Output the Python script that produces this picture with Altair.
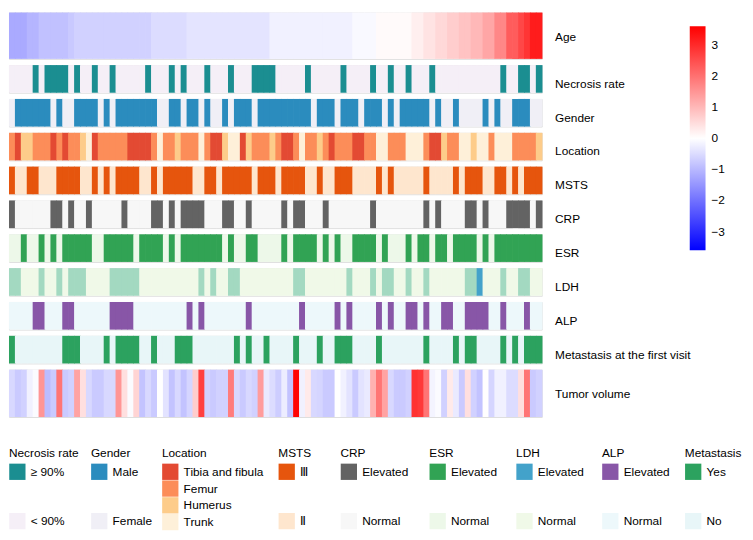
import altair as alt
import pandas as pd

FONT = "Liberation Sans"

# ---------------- data: 90 patients, left to right ----------------
cols = list(range(90))

age = [-1.2, -1.2, -1.2, -1.05, -1.05, -0.88, -0.88, -0.88, -0.88, -0.88,
       -0.76, -0.65, -0.65, -0.65, -0.65, -0.65, -0.65, -0.65, -0.65, -0.65,
       -0.65, -0.65, -0.65, -0.65, -0.5, -0.5, -0.5, -0.5, -0.5, -0.5,
       -0.38, -0.38, -0.38, -0.38, -0.38, -0.38, -0.38, -0.38, -0.38, -0.38,
       -0.38, -0.38, -0.38, -0.38, -0.2, -0.2, -0.2, -0.2, -0.2, -0.2,
       -0.2, -0.2, -0.2, -0.2, -0.2, -0.2, -0.2, -0.2, -0.08, -0.08,
       -0.08, -0.08, 0.07, 0.07, 0.07, 0.07, 0.07, 0.07, 0.22, 0.22,
       0.4, 0.4, 0.55, 0.55, 0.7, 0.7, 0.85, 0.85, 1.0, 1.0,
       1.25, 1.25, 1.7, 1.7, 2.3, 2.3, 2.6, 2.85, 3.2, 3.2]

tumor_volume = [-0.55, -0.75, -0.65, -0.2, -0.05, 1.5, -0.95, -0.75, 1.95, -0.75,
                -0.65, 1.3, 0.45, -0.55, -0.75, -0.75, -0.55, -0.55, 1.5, 0.45,
                -0.05, 0.6, -0.85, -0.55, -0.75, 0.0, -0.4, -0.85, -0.55, -0.85,
                -0.6, 0.7, 2.7, -0.65, -0.75, -0.65, -0.65, 1.85, -0.55, -0.75,
                -0.55, -0.65, 1.4, -0.3, -0.5, -0.7, -0.25, -0.85, 3.55, -0.2,
                0.3, -0.55, -0.6, -0.75, -0.75, 0.0, -0.2, -0.4, -0.75, -0.4,
                -0.3, 1.1, 1.95, 1.3, -0.55, -0.75, -0.75, -0.65, 2.9, 2.8,
                1.95, -0.15, -0.05, -0.65, 0.3, -0.3, -0.75, 0.45, -0.65, -0.85,
                0.02, -0.6, -0.2, -0.2, -0.5, -0.5, 0.45, 1.95, -0.75, -0.65]

# 1 = ">= 90%"
necrosis = [0, 0, 0, 0, 1, 0, 1, 1, 1, 1,
            0, 1, 0, 0, 1, 0, 0, 1, 0, 0,
            0, 0, 0, 1, 0, 0, 0, 1, 0, 1,
            0, 0, 0, 1, 0, 0, 0, 1, 0, 0,
            0, 1, 1, 1, 1, 0, 0, 0, 0, 0,
            1, 0, 0, 0, 0, 0, 1, 0, 0, 0,
            0, 1, 0, 0, 1, 0, 0, 1, 0, 0,
            0, 1, 0, 0, 0, 0, 0, 0, 0, 0,
            0, 0, 0, 1, 0, 0, 1, 1, 0, 1]
# 1 = male
gender = [0, 1, 1, 1, 1, 1, 1, 0, 1, 0,
          0, 1, 1, 1, 1, 0, 1, 0, 1, 1,
          1, 1, 1, 1, 1, 0, 0, 1, 1, 0,
          1, 1, 0, 1, 0, 0, 1, 0, 1, 1,
          1, 0, 1, 1, 1, 1, 1, 1, 1, 1,
          1, 0, 1, 1, 1, 0, 1, 1, 1, 0,
          1, 1, 1, 0, 1, 0, 1, 1, 1, 1,
          1, 0, 1, 0, 0, 1, 0, 0, 0, 0,
          1, 0, 1, 0, 0, 1, 1, 1, 0, 0]
# 0 tibia and fibula, 1 femur, 2 humerus, 3 trunk
location = [1, 0, 2, 2, 1, 1, 1, 0, 1, 0,
            1, 1, 2, 3, 0, 1, 1, 1, 1, 1,
            0, 0, 0, 0, 1, 3, 1, 1, 2, 1,
            1, 1, 3, 1, 0, 0, 2, 3, 3, 0,
            2, 1, 1, 1, 2, 1, 0, 0, 1, 3,
            1, 1, 2, 1, 0, 1, 1, 1, 0, 0,
            1, 1, 3, 3, 1, 1, 1, 3, 3, 3,
            1, 0, 0, 2, 1, 1, 3, 3, 2, 3,
            3, 1, 3, 3, 3, 1, 1, 1, 1, 2]
# 1 = III
msts = [1, 0, 0, 1, 1, 0, 0, 0, 1, 1,
        1, 1, 0, 0, 1, 0, 1, 0, 1, 1,
        1, 1, 0, 0, 1, 0, 1, 1, 1, 1,
        1, 0, 0, 1, 1, 0, 1, 1, 1, 1,
        1, 0, 1, 1, 1, 0, 1, 1, 1, 1,
        0, 0, 1, 0, 0, 1, 1, 1, 0, 0,
        0, 0, 1, 0, 1, 0, 0, 0, 0, 0,
        1, 0, 0, 0, 0, 1, 0, 1, 1, 1,
        0, 0, 1, 1, 0, 1, 0, 1, 1, 1]
# 1 = elevated
crp = [1, 0, 0, 0, 0, 0, 0, 1, 1, 0,
       1, 0, 0, 1, 0, 0, 0, 0, 0, 1,
       0, 0, 0, 0, 1, 1, 0, 1, 0, 1,
       1, 1, 1, 0, 0, 0, 1, 1, 0, 0,
       1, 0, 0, 0, 0, 0, 1, 0, 1, 1,
       0, 0, 0, 1, 0, 0, 0, 0, 0, 0,
       0, 1, 0, 0, 0, 0, 0, 0, 0, 0,
       1, 0, 1, 0, 0, 0, 0, 1, 1, 0,
       1, 0, 0, 0, 1, 1, 1, 1, 0, 1]
esr = [0, 0, 1, 0, 0, 1, 0, 1, 0, 1,
       1, 1, 1, 1, 0, 0, 1, 1, 1, 1,
       1, 0, 1, 1, 1, 1, 0, 1, 0, 1,
       1, 1, 1, 1, 1, 1, 0, 1, 0, 0,
       1, 1, 0, 0, 0, 0, 1, 0, 1, 1,
       1, 1, 0, 1, 0, 1, 0, 0, 1, 1,
       1, 1, 0, 1, 0, 0, 0, 1, 0, 1,
       1, 0, 1, 1, 0, 1, 1, 1, 1, 0,
       1, 0, 1, 1, 1, 1, 1, 1, 1, 1]
# 0 normal, 1 mildly elevated, 2 elevated
ldh = [1, 1, 0, 0, 0, 1, 0, 0, 1, 0,
       1, 1, 1, 0, 0, 0, 0, 1, 1, 1,
       1, 1, 0, 0, 0, 0, 0, 0, 0, 0,
       0, 0, 1, 0, 1, 0, 0, 1, 1, 0,
       0, 0, 0, 0, 0, 0, 0, 0, 1, 1,
       0, 0, 0, 0, 0, 0, 0, 1, 0, 0,
       0, 1, 0, 1, 1, 0, 0, 1, 0, 0,
       1, 0, 0, 0, 0, 0, 0, 1, 1, 2,
       0, 0, 0, 1, 0, 0, 1, 1, 0, 0]
alp = [0, 0, 0, 0, 1, 1, 0, 0, 0, 1,
       1, 0, 0, 0, 0, 0, 0, 1, 1, 1,
       1, 0, 0, 0, 0, 0, 0, 0, 0, 0,
       1, 0, 1, 0, 0, 0, 0, 0, 0, 0,
       1, 0, 0, 0, 0, 0, 0, 0, 0, 1,
       0, 0, 0, 0, 0, 1, 0, 1, 0, 0,
       0, 0, 1, 0, 1, 0, 0, 1, 1, 0,
       1, 0, 0, 1, 1, 0, 0, 1, 1, 1,
       1, 0, 0, 1, 0, 0, 0, 1, 0, 0]
# 1 = yes
metastasis = [1, 0, 0, 0, 0, 0, 0, 0, 0, 1,
              1, 1, 0, 0, 0, 0, 1, 0, 1, 1,
              1, 1, 0, 0, 1, 0, 0, 0, 1, 1,
              1, 0, 0, 0, 0, 0, 0, 0, 1, 0,
              1, 0, 0, 1, 0, 0, 0, 0, 1, 0,
              0, 0, 1, 0, 0, 1, 1, 1, 0, 0,
              0, 0, 1, 0, 0, 0, 0, 0, 0, 0,
              1, 0, 0, 0, 0, 1, 0, 1, 1, 0,
              0, 0, 0, 1, 0, 1, 0, 1, 1, 1]

# ---------------- layout / style ----------------
W = 540
H_BIG_TOP = 47
H_SMALL = 28
H_BIG_BOT = 48
GAP = 6.3
LEG_TOP = 442
SYM = 16.5

heights = [H_BIG_TOP] + [H_SMALL] * 9 + [H_BIG_BOT]
tops = [sum(heights[:i]) + i * GAP for i in range(len(heights))]


def base(df):
    # each cell spans [col, col + 1]; a hair of overlap hides anti-aliasing seams
    return alt.Chart(df).transform_calculate(col_end="datum.col + 1.12").mark_rect()


def enc_x():
    return dict(
        x=alt.X("col:Q", axis=None,
                scale=alt.Scale(domain=[0, len(cols)], nice=False, zero=False)),
        x2="col_end:Q",
    )


def row_y(offset):
    return alt.Y("row:N", title=None,
                 scale=alt.Scale(paddingInner=0, paddingOuter=0),
                 axis=alt.Axis(orient="right", ticks=False, domain=False, labelPadding=13,
                               labelFontSize=12, labelFont=FONT, labelColor="#000",
                               labelOffset=offset))


def cat_row(i, name, codes, labels, colors, title, lx, shown=None):
    shown = shown or labels
    df = pd.DataFrame({"col": cols, "row": name, "v": [labels[c] for c in codes]})
    n = len(shown)
    pad = SYM * (4 - n) / (n - 1)
    legend = alt.Legend(title=title, orient="none", legendX=lx, legendY=LEG_TOP - tops[i],
                        values=shown, symbolType="square", symbolSize=SYM * SYM,
                        symbolStrokeWidth=0, symbolOpacity=1, rowPadding=pad,
                        labelFontSize=12, labelFont=FONT, labelColor="#000", labelOffset=5,
                        titleFontSize=12, titleFont=FONT, titleFontWeight="normal",
                        titleColor="#000", titlePadding=3, direction="vertical")
    return base(df).encode(
        **enc_x(), y=row_y(5),
        color=alt.Color("v:N", scale=alt.Scale(domain=labels, range=colors), legend=legend),
    ).properties(width=W, height=heights[i])


def cont_scale():
    return alt.Scale(domain=[-3.6, 0, 3.6], range=["#0000FF", "#FFFFFF", "#FF0000"],
                     interpolate="rgb")


def cont_row(i, name, values, legend):
    df = pd.DataFrame({"col": cols, "row": name, "v": values})
    return base(df).encode(
        **enc_x(), y=row_y(1),
        color=alt.Color("v:Q", scale=cont_scale(), legend=legend),
    ).properties(width=W, height=heights[i])


age_chart = cont_row(0, "Age", age,
                     alt.Legend(type="gradient", orient="none", legendX=690, legendY=14,
                                title=None, direction="vertical", gradientLength=227,
                                gradientThickness=16, gradientStrokeWidth=0,
                                values=[-3, -2, -1, 0, 1, 2, 3], format="d",
                                labelFontSize=12, labelFont=FONT, labelColor="#000",
                                labelOffset=6))
tumor_chart = cont_row(10, "Tumor volume", tumor_volume, None)

rows = [
    age_chart,
    cat_row(1, "Necrosis rate", necrosis, ["< 90%", "≥ 90%"], ["#F5EFF7", "#1B8E91"],
            "Necrosis rate", 0, shown=["≥ 90%", "< 90%"]),
    cat_row(2, "Gender", gender, ["Female", "Male"], ["#F0EFF6", "#2B8CBE"],
            "Gender", 83, shown=["Male", "Female"]),
    cat_row(3, "Location", location, ["Tibia and fibula", "Femur", "Humerus", "Trunk"],
            ["#E34A33", "#FC8D59", "#FDCC8A", "#FEF0D9"], "Location", 155),
    cat_row(4, "MSTS", msts, ["Ⅱ", "Ⅲ"], ["#FEE6CE", "#E6550D"], "MSTS", 273,
            shown=["Ⅲ", "Ⅱ"]),
    cat_row(5, "CRP", crp, ["Normal", "Elevated"], ["#F7F7F7", "#636363"], "CRP", 336,
            shown=["Elevated", "Normal"]),
    cat_row(6, "ESR", esr, ["Normal", "Elevated"], ["#EDF8E9", "#31A354"], "ESR", 426,
            shown=["Elevated", "Normal"]),
    cat_row(7, "LDH", ldh, ["Normal", "Mildly elevated", "Elevated"],
            ["#F0F9E8", "#A3D9C1", "#43A2CA"], "LDH", 514, shown=["Elevated", "Normal"]),
    cat_row(8, "ALP", alp, ["Normal", "Elevated"], ["#EDF8FB", "#8856A7"], "ALP", 601,
            shown=["Elevated", "Normal"]),
    cat_row(9, "Metastasis at the first visit", metastasis, ["No", "Yes"],
            ["#E8F6F8", "#2CA25F"], "Metastasis", 685, shown=["Yes", "No"]),
    tumor_chart,
]

chart = alt.vconcat(*rows, spacing=GAP, bounds="flush").resolve_scale(
    color="independent"
).properties(
    padding={"left": 0, "top": 0, "right": 2, "bottom": 0}
).configure_view(stroke=None).configure(font=FONT)

chart.save("out.html", embed_options={"renderer": "svg", "actions": False})
